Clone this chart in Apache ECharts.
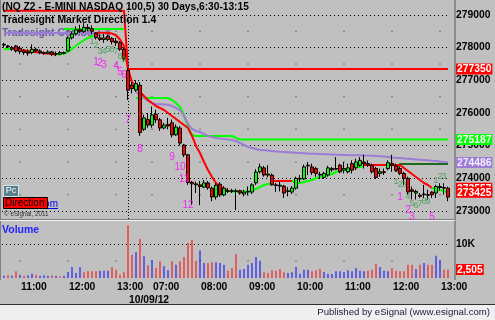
<!DOCTYPE html>
<html><head><meta charset="utf-8">
<script src="https://cdn.jsdelivr.net/npm/echarts@6/dist/echarts.min.js"></script>
<style>html,body{margin:0;padding:0;background:#C0C0C0}#c{width:495px;height:320px}</style>
</head><body><div id="c"></div>
<script>
// ---------- DATA ----------
const sessions = [
  {date:'10/08/12', start:'10:40', end:'13:10'},
  {date:'10/09/12', start:'06:30', end:'13:10'}
];
// [open, close, low, high]
const candlesDay1 = [
 [278100,278080,278000,278150],[278050,278020,277990,278080],[278000,277950,277900,278050],[278050,277900,277850,278080],
 [277980,277880,277800,278050],[277900,277850,277780,277950],[277870,277830,277750,277950],[277850,277950,277800,278100],
 [277950,277900,277850,278000],[277900,277850,277800,277950],[277850,277820,277780,277880],[277830,277870,277800,277920],
 [277870,277800,277750,277900],[277800,277820,277740,277880],[277800,277850,277770,277900],[277850,277830,277800,277880],
 [277900,278300,277880,278350],[278300,278420,278250,278500],[278420,278550,278380,278650],[278550,278500,278450,278700],
 [278500,278620,278450,278750],[278620,278580,278500,278720],[278580,278500,278420,278680],[278450,278300,278250,278480],
 [278300,278250,278200,278400],[278250,278300,278150,278420],[278350,278250,278200,278400],[278280,278180,278100,278320],
 [278200,278150,278050,278300],[278150,277950,277900,278200],[277950,277650,277600,278000]
];
const candlesDay2 = [
 [277300,276700,276400,277380],[276850,276750,276600,276950],[276700,276900,276650,277000],[276850,275400,275300,276950],
 [275500,275850,275450,275950],[275800,275630,275550,276000],[275630,275940,275550,276200],[275960,275790,275700,276100],
 [275790,275540,275450,275850],[275540,275630,275500,275700],[275650,275600,275500,275850],[275700,275330,275250,275800],
 [275330,275570,275300,275650],[275540,275080,275000,275600],[275020,274720,274650,275050],[274720,273870,273800,274750],
 [273880,273830,273180,273920],[273800,273830,273550,273900],[273800,273750,273180,273920],[273730,273860,273700,273950],
 [273860,273710,273650,273920],[273700,273430,273300,273750],[273430,273790,273350,273850],[273820,273490,273430,273880],
 [273490,273700,273450,273760],[273620,273600,273550,273700],[273600,273620,273550,273680],[273620,273600,273030,273680],
 [273620,273550,273500,273650],[273520,273580,273450,273650],[273580,273600,273480,273750],[273580,273800,273520,273850],
 [273860,274190,273800,274280],[274200,274350,274150,274450],[274320,274100,274050,274380],[274100,274130,274030,274400],
 [274100,273800,273780,274150],[273800,273780,273580,273860],[273760,273790,273600,273900],[273760,273550,273400,273800],
 [273600,273620,273450,273730],[273580,273700,273520,273760],[273700,274000,273650,274050],[274000,273980,273880,274100],
 [273980,274350,273950,274420],[274400,274380,274100,274500],[274350,274180,274100,274450],[274300,274150,274050,274350],
 [274120,274100,273980,274200],[274030,274150,273980,274200],[274100,274320,274050,274380],[274300,274260,274200,274350],
 [274280,274300,274250,274650],[274400,274200,274150,274450],[274250,274300,274150,274500],[274200,274320,274150,274450],
 [274450,274250,274150,274550],[274320,274500,274250,274600],[274400,274550,274350,274650],[274500,274450,274300,274720],
 [274450,274400,274350,274550],[274400,274200,274150,274450],[274300,274030,273980,274350],[274150,274200,274050,274300],
 [274200,274180,274100,274300],[274300,274480,274250,274550],[274450,274400,274200,274720],[274380,274250,274200,274450],
 [274300,274150,274100,274350],[274150,274000,273800,274200],[274000,273580,273500,274050],[273650,273600,273350,273750],
 [273550,273600,273350,273650],[273480,273450,273400,273550],[273500,273520,273400,273800],[273480,273500,273350,273650],
 [273580,273500,273400,273600],[273550,273750,273400,273800],[273750,273720,273620,273850],[273720,273700,273500,273850],
 [273700,273425,273300,273750]
];
const volumeDay1 = [690,780,690,1960,980,690,780,1270,980,690,780,690,780,590,490,690,1760,3230,1470,3140,1670,2060,1960,1960,2160,2160,2160,3230,2450,980,1670];
const volumeUpDay1 = [1,0,1,0,1,0,1,1,0,1,1,1,0,1,0,1,1,1,1,1,0,0,0,0,1,1,1,0,0,0,0];
const volumeDay2 = [
 15480,6860,7550,11470,6370,3720,5190,2940,4900,3430,
 2250,4900,3920,4900,6170,10290,11270,5100,8130,4410,
 4410,4700,4610,4410,3920,2160,2940,7060,2450,2650,
 3920,4410,6170,5100,1670,1470,2250,2160,2650,1670,
 1470,1670,3230,1270,2450,2450,1960,2250,2740,1760,
 1180,1180,1960,1960,1760,2250,1960,2940,2160,1960,
 2160,2450,4210,3230,2160,1960,2940,2160,1960,1960,
 3920,3920,2650,3920,4410,3920,3920,6570,5190,2450,
 2505];
const volumeUpDay2 = [
 0,0,1,0,1,0,1,0,0,1, 1,0,1,0,0,0,0,0,1,1, 0,0,1,1,1,0,0,0,1,1, 1,1,1,1,0,0,0,0,0,0,
 1,1,1,1,1,1,0,0,0,1, 1,1,1,1,1,1,1,1,1,1, 0,0,0,1,1,1,0,0,0,0, 0,0,1,0,1,0,0,1,1,0, 0];
// indicator segments: [first bar index, values...]
const trailStopRed = [
 [3,[277960,277940,277920,277900,277880,277860,277850,277830,277820,277800,277790]],
 [23,[278450,278460,278460,278450,278430,278380,278250,278050,277350,276950,276800,276643,276520,276398,276306,276214,276153,276092,276000,275908,275817,275725,275633,275541,275296,274990,274776,274500,274255,274041,273857,273735,273674,273613]],
 [67,[273919,273919,273919,273919,273919,273919]],
 [90,[274410,274410,274410,274410,274410,274410,274410,274410,274410,274410,274317,274225,274133,274041,273949,273857,273796,273704]]
];
const trailStopGreen = [
 [0,[277960,277960,277960,277960]],
 [13,[277790,277800,277820,277870,277960,278060,278150,278230,278300,278350,278400]],
 [56,[273613,273600,273600,273600,273600,273600,273613,273674,273735,273796,273827,273857]],
 [72,[273919,273857,273857,273888,273919,273949,274010,274041,274071,274102,274133,274194,274225,274255,274286,274317,274347,274347,274378]],
 [107,[273704,273674,273643,273613,273557]]
];
const levelRedRanges = [[0,30,279130],[31,111,277350]];
const levelGreenDay1Range = [15,30,278570];
const levelGreenDay2 = [33,[276460,276460,276460,276460,276460,276460,276460,276460,276460,276398,276306,276184,275939,275572,275327,275296,275296,275296,275296,275296,275296,275296,275296,275296,275296,275240]];
const levelGreenDay2Tail = [59,111,275187];
const comboPurpleDay1Range = [0,24,278450];
const comboPurpleDay2 = [33,[
 276643,276551,276459,276367,276306,276270,276270,276260,276250,276215,
 276153,276092,275908,275663,275510,275449,275418,275357,275296,275266,
 275235,275220,275205,275190,275174,275143,275082,275020,274960,274929,
 274898,274867,274860,274850,274837,274820,274810,274806,274800,274790,
 274780,274776,274770,274760,274755,274750,274745,274740,274735,274730,
 274725,274720,274715,274712,274710,274708,274705,274700,274695,274690,
 274684,274675,274665,274653,274640,274630,274623,274610,274600,274590,
 274580,274570,274561,274550,274540,274530,274515,274500,274486]];
const stopDarkGreen = [98,[274200,274440,274440,274440,274440,274440,274440,274440,274440,274440,274440,274440,274440,274440]];
// count labels: [bar index, price, text]
const countGreen = [
 [22,278174,'1'],[23,278051,'2'],[24,277867,'3'],[25,277867,'4'],[26,277929,'5'],[27,277929,'6'],[28,277867,'7'],[29,277714,'8'],[30,277622,'9'],
 [98,273888,'1'],[99,273796,'2'],[100,273796,'3'],[101,273429,'4'],[102,273214,'5'],[103,273153,'6'],[104,273214,'7'],[105,273276,'8'],[106,273276,'9'],
 [108,273919,'1'],[109,274041,'2'],[110,274041,'3']
];
const countMagenta = [
 [23,277561,'1'],[24,277531,'2'],[25,277470,'3'],[28,277439,'4'],[29,277255,'5'],[30,277163,'6'],
 [31,275786,'7'],[34,274898,'8'],[42,274653,'9'],[44,274347,'10'],[45,273980,'11'],[46,273184,'12'],
 [99,273429,'1'],[101,273031,'2'],[102,272800,'3'],[107,272800,'5']
];
const priceTicks = [273000,274000,275000,276000,277000,278000,279000];
const halfLevels = [278500,277500,276500,275500,274500,273500];
// last-value tags on the price scale (stacked as in eSignal): [scale position, text, style]
const priceTags = [[277350,'277350','r'],[275187,'275187','g'],[274486,'274486','p'],[273694,'273557','r'],[273572,'273425','r']];
const volumeTicks = [10000];
const volumeTags = [[2505,'2,505','r']];
const titleText = '(NQ Z2 - E-MINI NASDAQ 100,5) 30 Days,6:30-13:15';

// ---------- BUILD ----------
function toMin(s){const p=s.split(':').map(Number);return p[0]*60+p[1];}
function fmt(m){return String(Math.floor(m/60)).padStart(2,'0')+':'+String(m%60).padStart(2,'0');}
const categories=[], sessionStart=[];
sessions.forEach(s=>{sessionStart.push(categories.length);for(let m=toMin(s.start);m<=toMin(s.end);m+=5)categories.push(s.date+' '+fmt(m));});
const N=categories.length;
const candles=candlesDay1.concat(candlesDay2);
const volumes=volumeDay1.concat(volumeDay2), volUp=volumeUpDay1.concat(volumeUpDay2);
function fromSegments(segs){const a=new Array(N).fill(null);segs.forEach(([s,v])=>v.forEach((x,k)=>a[s+k]=x));return a;}
function fromRanges(r,a){a=a||new Array(N).fill(null);r.forEach(([s,e,v])=>{for(let i=s;i<=e;i++)a[i]=v;});return a;}
const redLevel=fromRanges(levelRedRanges);
const greenLevel1=fromRanges([levelGreenDay1Range]);
const greenLevel2=fromRanges([levelGreenDay2Tail],fromSegments([levelGreenDay2]));
const purple1=fromRanges([comboPurpleDay1Range]);
const purple2=fromSegments([comboPurpleDay2]);
const hourIdx=[];categories.forEach((c,i)=>{if(c.endsWith(':00'))hourIdx.push(i);});
const dayBreak=sessionStart[1];
const dots=[];hourIdx.forEach(h=>halfLevels.forEach(l=>dots.push([h,l])));
const volDots=hourIdx.map(h=>[h,5000]);
const labelIdx=new Set(hourIdx.concat([dayBreak]));
const FONT='Liberation Sans, Arial, sans-serif';
const tagMap={};priceTags.forEach(t=>tagMap[t[0]]={text:t[1],s:t[2]});
const vtagMap={};volumeTags.forEach(t=>vtagMap[t[0]]={text:t[1],s:t[2]});
const tagRich={
  n:{fontFamily:FONT,fontWeight:'bold',fontSize:10.3,color:'#000'},
  r:{fontFamily:FONT,fontWeight:'bold',fontSize:10.3,color:'#fff',backgroundColor:'#FF0000',padding:[1,1,0,1],lineHeight:11},
  g:{fontFamily:FONT,fontWeight:'bold',fontSize:10.3,color:'#fff',backgroundColor:'#00FF00',padding:[1,1,0,1],lineHeight:11},
  p:{fontFamily:FONT,fontWeight:'bold',fontSize:10.3,color:'#F2ECFF',backgroundColor:'#9C7CD4',padding:[1,1,0,1],lineHeight:11}
};
function lineSeries(data,color,w,z){return {type:'line',xAxisIndex:0,yAxisIndex:0,data:data,symbol:'none',silent:true,connectNulls:false,lineStyle:{color:color,width:w||2},z:z||3};}
function labelSeries(data,color,size){return {type:'scatter',xAxisIndex:0,yAxisIndex:0,data:data,symbolSize:1,silent:true,itemStyle:{color:'rgba(0,0,0,0)'},z:8,
  label:{show:true,position:'inside',formatter:p=>p.data[2],color:color,fontSize:size,fontFamily:FONT}};}

const chart=echarts.init(document.getElementById('c'),null,{renderer:'canvas'});
chart.setOption({
  animation:false,
  backgroundColor:'#C0C0C0',
  grid:[
    {left:2,width:448,top:3,height:216,outerBoundsMode:'none'},
    {left:2,width:448,top:221,height:57,outerBoundsMode:'none'}
  ],
  xAxis:[
    {type:'category',gridIndex:0,data:categories,boundaryGap:true,axisLine:{show:false},axisTick:{show:false},axisLabel:{show:false},splitLine:{show:false}},
    {type:'category',gridIndex:1,data:categories,boundaryGap:true,axisLine:{show:false},axisTick:{show:false},splitLine:{show:false},
      axisLabel:{show:true,interval:(i)=>labelIdx.has(i),align:'left',margin:3,padding:[0,0,0,1],
        fontFamily:FONT,fontWeight:'bold',fontSize:10.3,color:'#000',lineHeight:13,verticalAlign:'top',
        formatter:(v,i)=>{const p=v.split(' ');return i===dayBreak?'\n'+p[0]:p[1];}}}
  ],
  yAxis:[
    {type:'value',gridIndex:0,position:'right',min:272755,max:279367,scale:true,
      axisLine:{show:false},axisTick:{show:false,customValues:priceTicks},
      splitLine:{show:true,lineStyle:{color:'#000',width:1,type:[1,3]}},
      axisLabel:{margin:6,customValues:[279000,278000,277000,277350,276000,275000,275187,274486,273000,273694,273572,274000],
        formatter:v=>tagMap[v]?'{'+tagMap[v].s+'|'+tagMap[v].text+'}':'{n|'+v+'}',rich:tagRich}},
    {type:'value',gridIndex:1,position:'right',min:0,max:16765,
      axisLine:{show:false},axisTick:{show:false,customValues:volumeTicks},
      splitLine:{show:true,lineStyle:{color:'#000',width:1,type:[1,3]}},
      axisLabel:{margin:6,customValues:[10000,2505],
        formatter:v=>vtagMap[v]?'{'+vtagMap[v].s+'|'+vtagMap[v].text+'}':'{n|'+(v/1000)+'K}',rich:tagRich}}
  ],
  series:[
    {type:'scatter',xAxisIndex:0,yAxisIndex:0,data:dots,symbol:'rect',symbolSize:1,silent:true,itemStyle:{color:'#000'},z:1},
    {type:'scatter',xAxisIndex:1,yAxisIndex:1,data:volDots,symbol:'rect',symbolSize:1,silent:true,itemStyle:{color:'#000'},z:1},
    lineSeries(redLevel,'#FF0000',2,3),
    lineSeries(greenLevel1,'#00FF00',2,3),
    lineSeries(greenLevel2,'#00FF00',2,3),
    lineSeries(purple1,'#9C7CD4',2,3),
    lineSeries(purple2,'#9C7CD4',2,3),
    lineSeries(fromSegments([stopDarkGreen]),'#1F6B1F',2,3),
    lineSeries(fromSegments(trailStopRed),'#FF0000',2,4),
    lineSeries(fromSegments(trailStopGreen),'#00FF00',2,4),
    {type:'candlestick',xAxisIndex:0,yAxisIndex:0,data:candles,barWidth:3,silent:true,z:5,
      itemStyle:{color:'#00FF00',color0:'#FF0000',borderColor:'#000',borderColor0:'#000',borderWidth:1},
      markLine:{silent:true,symbol:'none',label:{show:false},lineStyle:{color:'#000',width:1,type:[1,2]},data:[{xAxis:dayBreak}]}},
    {type:'bar',xAxisIndex:1,yAxisIndex:1,barWidth:1,silent:true,z:3,
      data:volumes.map((v,i)=>({value:v,itemStyle:{color:volUp[i]?'#0000FF':'#FF0000'}}))},
    labelSeries(countGreen,'#3A9A4A',9),
    labelSeries(countMagenta,'#FF00FF',10)
  ],
  graphic:[
    {type:'rect',silent:true,z:0,shape:{x:0,y:304,width:495,height:16},style:{fill:'#EFEFEF'}},
    {type:'line',silent:true,z:0,shape:{x1:0,y1:304.5,x2:495,y2:304.5},style:{stroke:'#303030',lineWidth:1}},
    {type:'line',silent:true,z:0,shape:{x1:0.5,y1:0,x2:0.5,y2:280},style:{stroke:'#808080',lineWidth:1}},
    {type:'line',silent:true,z:0,shape:{x1:455,y1:0,x2:455,y2:280},style:{stroke:'#8C8C8C',lineWidth:2}},
    {type:'line',silent:true,z:0,shape:{x1:0,y1:219.5,x2:455,y2:219.5},style:{stroke:'#808080',lineWidth:1}},
    {type:'line',silent:true,z:0,shape:{x1:0,y1:220.5,x2:455,y2:220.5},style:{stroke:'#F4F4F4',lineWidth:1}},
    {type:'text',silent:true,z:10,style:{x:490,y:312,text:'Published by eSignal (www.esignal.com)',fill:'#1B1B3A',font:'9.6px '+FONT,textAlign:'right',textVerticalAlign:'middle'}},
    {type:'text',silent:true,z:10,style:{x:2,y:7.5,text:titleText,fill:'#000',font:'bold 10.2px '+FONT,textVerticalAlign:'middle'}},
    {type:'text',silent:true,z:10,style:{x:2,y:20.5,text:'Tradesight Market Direction 1.4',fill:'#000',font:'bold 10.4px '+FONT,textVerticalAlign:'middle'}},
    {type:'text',silent:true,z:1,style:{x:2,y:33,text:'Tradesight Combo 1.4',fill:'#6E58A8',font:'bold 10.4px '+FONT,textVerticalAlign:'middle'}},
    {type:'text',silent:true,z:10,style:{x:2,y:230.5,text:'Volume',fill:'#1E1EFF',font:'bold 10.5px '+FONT,textVerticalAlign:'middle'}},
    {type:'text',silent:true,z:10,style:{x:58,y:204,text:'sight.com',fill:'#0000EE',font:'10px '+FONT,textAlign:'right',textVerticalAlign:'middle'}},
    {type:'line',silent:true,z:10,shape:{x1:47,y1:208.5,x2:58,y2:208.5},style:{stroke:'#0000EE',lineWidth:1}},
    {type:'rect',silent:true,z:11,shape:{x:3.5,y:185.5,width:15,height:11},style:{fill:'#55808C',stroke:'#D8E2E4',lineWidth:1}},
    {type:'text',silent:true,z:12,style:{x:11,y:191,text:'Pc',fill:'#FFFFFF',font:'9px '+FONT,textAlign:'center',textVerticalAlign:'middle'}},
    {type:'rect',silent:true,z:11,shape:{x:3.5,y:197.5,width:44,height:11},style:{fill:'#FF0000',stroke:'#000',lineWidth:1}},
    {type:'text',silent:true,z:12,style:{x:5,y:203.5,text:'Direction',fill:'#000',font:'10px '+FONT,textVerticalAlign:'middle'}},
    {type:'text',silent:true,z:10,style:{x:4,y:214.5,text:'© eSignal, 2011',fill:'#333',font:'6.3px '+FONT,textVerticalAlign:'middle'}}
  ]
});
</script></body></html>
